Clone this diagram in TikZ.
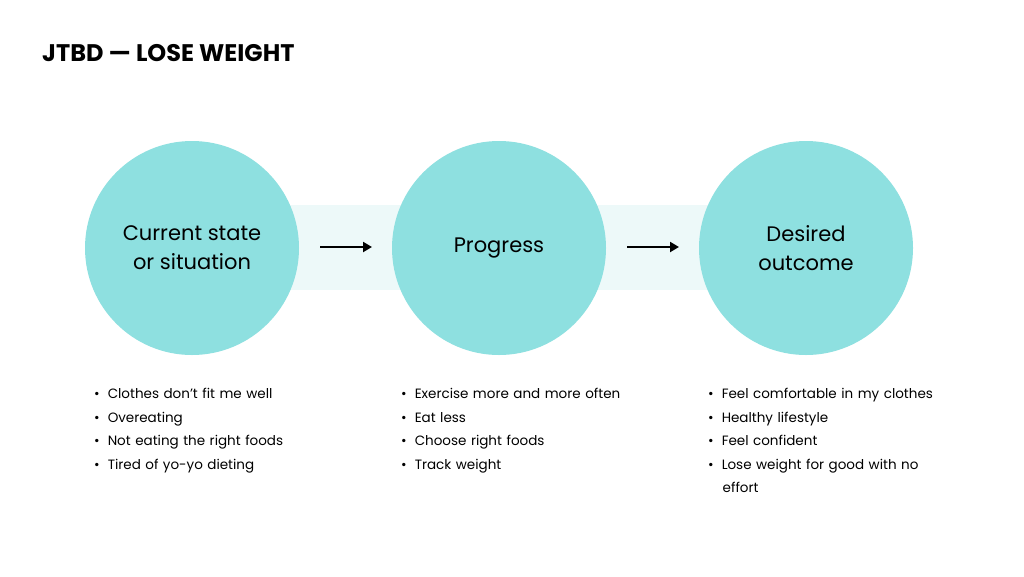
\documentclass[tikz,border=0pt]{standalone}
\usepackage{fontspec}
\setmainfont{Poppins}
\usetikzlibrary{arrows.meta}
\definecolor{teal}{HTML}{8EE0E0}
\definecolor{glow}{HTML}{E6F7F7}
\tikzset{
  circ/.style={circle,fill=teal,minimum size=214pt,inner sep=0pt,align=center,font=\fontsize{21}{29}\selectfont\mdseries},
  flow/.style={-{Triangle[length=9pt,width=10pt]},line width=2pt,black},
  blist/.style={anchor=north west,inner sep=0pt,align=left,font=\fontsize{13.5}{23.5}\selectfont,text width=240pt}
}
\begin{document}
\begin{tikzpicture}[x=1pt,y=-1pt]
\useasboundingbox[fill=white] (0,0) rectangle (1024,576);
\fill[glow,opacity=0.7] (192,205) rectangle (806,290);
\node[anchor=west,inner sep=0pt,font=\fontsize{24}{28}\selectfont\bfseries] (title) at (42,53) {JTBD — LOSE WEIGHT};
\node[circ] (c1) at (192,248) {Current state\\or situation};
\node[circ] (c2) at (499,248) {Progress};
\node[circ] (c3) at (806,248) {Desired\\outcome};
\coordinate (a1s) at (320,247); \coordinate (a1e) at (372,247);
\coordinate (a2s) at (627,247); \coordinate (a2e) at (679,247);
\draw[flow] (a1s) -- (a1e);
\draw[flow] (a2s) -- (a2e);
\node[blist] (l1) at (94,388) {%
\textbullet\hspace{8pt}Clothes don't fit me well\\
\textbullet\hspace{8pt}Overeating\\
\textbullet\hspace{8pt}Not eating the right foods\\
\textbullet\hspace{8pt}Tired of yo-yo dieting};
\node[blist] (l2) at (401,388) {%
\textbullet\hspace{8pt}Exercise more and more often\\
\textbullet\hspace{8pt}Eat less\\
\textbullet\hspace{8pt}Choose right foods\\
\textbullet\hspace{8pt}Track weight};
\node[blist] (l3) at (708,388) {%
\textbullet\hspace{8pt}Feel comfortable in my clothes\\
\textbullet\hspace{8pt}Healthy lifestyle\\
\textbullet\hspace{8pt}Feel confident\\
\textbullet\hspace{8pt}Lose weight for good with no\\
\hspace*{14.5pt}effort};
\end{tikzpicture}
\end{document}
